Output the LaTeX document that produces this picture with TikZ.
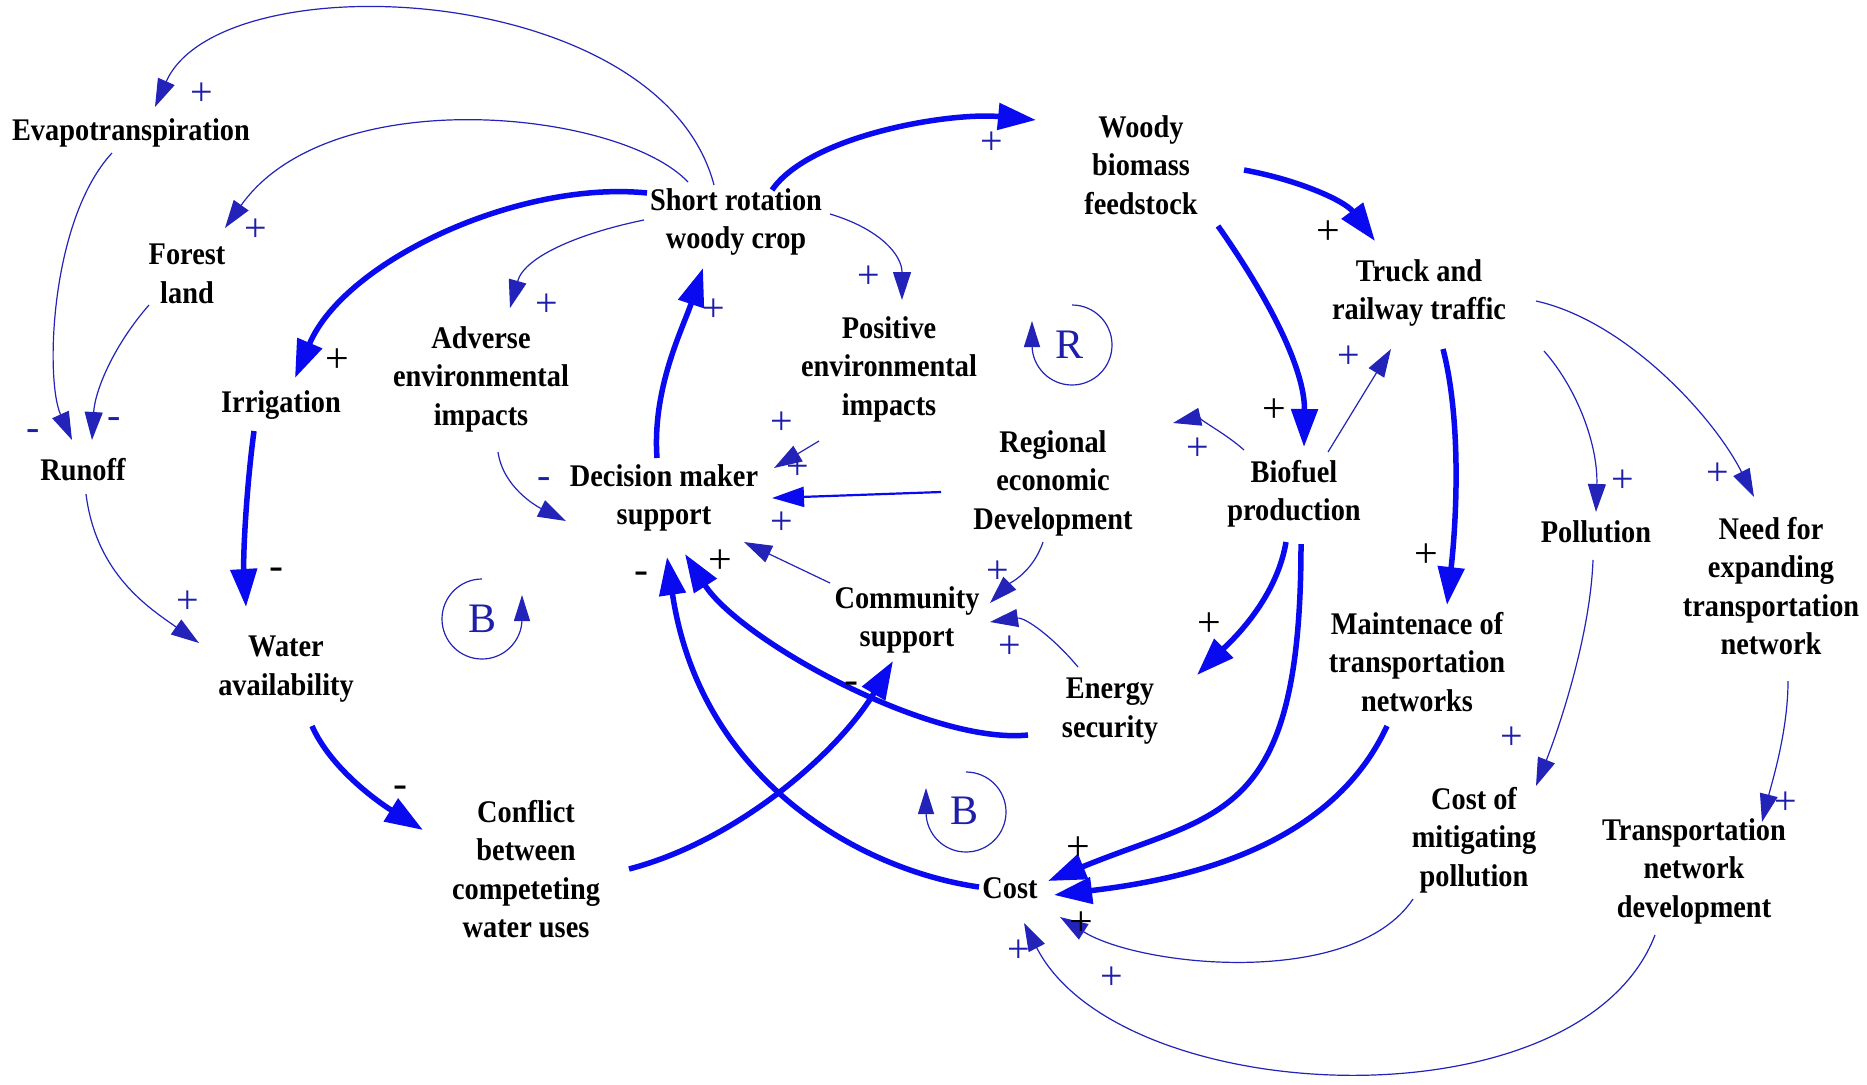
\documentclass[tikz,border=0pt]{standalone}
\usepackage{fontspec}
\setmainfont{Liberation Serif}
\newfontfamily\lblfont{Liberation Serif}[FakeStretch=0.9]
\usetikzlibrary{arrows.meta}
\definecolor{thickblue}{RGB}{10,10,240}
\definecolor{thinblue}{RGB}{35,35,185}
\definecolor{signblue}{RGB}{30,30,170}
\tikzset{
 lbl/.style={align=center,inner sep=0pt,font=\lblfont\bfseries\fontsize{31.5}{38.5}\selectfont},
 sgnb/.style={text=signblue,inner sep=0pt,font=\fontsize{40}{40}\selectfont},
 sgnk/.style={text=black,inner sep=0pt,font=\fontsize{42}{42}\selectfont},
 thicklink/.style={draw=thickblue,line width=5.5pt,-{Triangle[length=38pt,width=26pt]}},
 thinlink/.style={draw=thinblue,line width=1.2pt,-{Triangle[length=28pt,width=18pt]}},
 midlink/.style={draw=thickblue,line width=2.2pt,-{Triangle[length=32pt,width=20pt]}},
 loopmark/.style={draw=thinblue,line width=1.2pt,-{Triangle[length=26pt,width=16pt]}},
 looplbl/.style={text=signblue,inner sep=0pt,font=\fontsize{42}{42}\selectfont},
}
\begin{document}
\begin{tikzpicture}[x=1pt,y=-1pt]
\useasboundingbox[fill=white] (0,0) rectangle (1867,1084);
% nodes
\node[lbl] (evap) at (131,133) {Evapotranspiration};
\node[lbl] (forest) at (187,274) {Forest\\land};
\node[lbl] (srwc) at (736,222) {Short rotation\\woody crop};
\node[lbl] (woody) at (1141,165) {Woody\\biomass\\feedstock};
\node[lbl] (truck) at (1419,293) {Truck and\\railway traffic};
\node[lbl] (irrig) at (281,405) {Irrigation};
\node[lbl] (adverse) at (481,379) {Adverse\\environmental\\impacts};
\node[lbl] (positive) at (889,369) {Positive\\environmental\\impacts};
\node[lbl] (runoff) at (83,470) {Runoff};
\node[lbl] (decision) at (664,498) {Decision maker\\support};
\node[lbl] (regional) at (1053,483) {Regional\\economic\\Development};
\node[lbl] (biofuel) at (1294,494) {Biofuel\\production};
\node[lbl] (pollution) at (1596,532) {Pollution};
\node[lbl] (need) at (1771,586) {Need for\\expanding\\transportation\\network};
\node[lbl] (community) at (907,620) {Community\\support};
\node[lbl] (water) at (286,669) {Water\\availability};
\node[lbl] (energy) at (1110,711) {Energy\\security};
\node[lbl] (maint) at (1417,662) {Maintenace of\\transportation\\networks};
\node[lbl] (costmit) at (1474,840) {Cost of\\mitigating\\pollution};
\node[lbl] (transdev) at (1694,871) {Transportation\\network\\development};
\node[lbl] (conflict) at (526,869) {Conflict\\between\\competeting\\water uses};
\node[lbl] (cost) at (1010,888) {Cost};
% links
\draw[thinlink] ([shift={(-22,-37)}]srwc.center) .. controls +(-54,-205) and +(65,-147) .. ([shift={(24,-26)}]evap.center);
\draw[thinlink] ([shift={(-48,-40)}]srwc.center) .. controls +(-68,-72) and +(105,-148) .. ([shift={(38,-46)}]forest.center);
\draw[thicklink] ([shift={(-89,-29)}]srwc.center) .. controls +(-127,-13) and +(50,-118) .. ([shift={(14,-27)}]irrig.center);
\draw[thinlink] ([shift={(-92,-2)}]srwc.center) .. controls +(-59,12) and +(15,-53) .. ([shift={(29,-71)}]adverse.center);
\draw[thinlink] ([shift={(94,-8)}]srwc.center) .. controls +(50,15) and +(0,-45) .. ([shift={(13,-69)}]positive.center);
\draw[thicklink] ([shift={(36,-32)}]srwc.center) .. controls +(38,-55) and +(-86,-8) .. ([shift={(-105,-45)}]woody.center);
\draw[thicklink] ([shift={(103,5)}]woody.center) .. controls +(55,10) and +(-30,-40) .. ([shift={(-44,-52)}]truck.center);
\draw[thicklink] ([shift={(77,61)}]woody.center) .. controls +(52,74) and +(1,-77) .. ([shift={(10,-47)}]biofuel.center);
\draw[thinlink] ([shift={(34,-42)}]biofuel.center) -- ([shift={(-28,56)}]truck.center);
\draw[thinlink] ([shift={(-50,-44)}]biofuel.center) .. controls +(-20,-18) and +(22,-5) .. ([shift={(120,-60)}]regional.center);
\draw[thicklink] ([shift={(24,56)}]truck.center) .. controls +(18,70) and +(10,-90) .. ([shift={(30,-57)}]maint.center);
\draw[thinlink] ([shift={(125,58)}]truck.center) .. controls +(35,40) and +(2,-65) .. ([shift={(0,-20)}]pollution.center);
\draw[thinlink] ([shift={(117,8)}]truck.center) .. controls +(90,20) and +(-40,-80) .. ([shift={(-17,-89)}]need.center);
\draw[thinlink] ([shift={(-3,28)}]pollution.center) .. controls +(-3,80) and +(20,-50) .. ([shift={(62,-54)}]costmit.center);
\draw[thinlink] ([shift={(17,95)}]need.center) .. controls +(0,50) and +(10,-40) .. ([shift={(68,-49)}]transdev.center);
\draw[thinlink] ([shift={(-61,59)}]costmit.center) .. controls +(-60,90) and +(80,50) .. ([shift={(50,29)}]cost.center);
\draw[thinlink] ([shift={(-39,64)}]transdev.center) .. controls +(-75,195) and +(96,187) .. ([shift={(14,35)}]cost.center);
\draw[thicklink] ([shift={(7,50)}]biofuel.center) .. controls +(0,280) and +(170,-70) .. ([shift={(38,-7)}]cost.center);
\draw[thicklink] ([shift={(-30,64)}]maint.center) .. controls +(-57,124) and +(126,-15) .. ([shift={(44,7)}]cost.center);
\draw[thicklink] ([shift={(-8,48)}]biofuel.center) .. controls +(-10,60) and +(30,-30) .. ([shift={(87,-36)}]energy.center);
\draw[thicklink] ([shift={(-31,-1)}]cost.center) .. controls +(-119,-17) and +(33,223) .. ([shift={(3,59)}]decision.center);
\draw[thicklink] ([shift={(-82,24)}]energy.center) .. controls +(-98,10) and +(55,86) .. ([shift={(21,56)}]decision.center);
\draw[thicklink] ([shift={(103,0)}]conflict.center) .. controls +(111,-29) and +(-53,89) .. ([shift={(-14,41)}]community.center);
\draw[thicklink] ([shift={(-7,-40)}]decision.center) .. controls +(-5,-70) and +(-20,60) .. ([shift={(-33,46)}]srwc.center);
\draw[thinlink] ([shift={(17,73)}]adverse.center) .. controls +(5,35) and +(-30,-15) .. ([shift={(-98,23)}]decision.center);
\draw[thinlink] ([shift={(-70,72)}]positive.center) -- ([shift={(110,-30)}]decision.center);
\draw[midlink] ([shift={(-112,9)}]regional.center) -- ([shift={(108,0)}]decision.center);
\draw[thinlink] ([shift={(-77,-37)}]community.center) -- ([shift={(80,44)}]decision.center);
\draw[thinlink] ([shift={(-10,59)}]regional.center) .. controls +(-10,30) and +(20,-20) .. ([shift={(83,-17)}]community.center);
\draw[thinlink] ([shift={(-32,-44)}]energy.center) .. controls +(-25,-30) and +(35,-5) .. ([shift={(83,2)}]community.center);
\draw[thicklink] ([shift={(-27,26)}]irrig.center) .. controls +(-8,60) and +(-3,-50) .. ([shift={(-40,-62)}]water.center);
\draw[thicklink] ([shift={(26,57)}]water.center) .. controls +(20,45) and +(-40,-25) .. ([shift={(-103,-39)}]conflict.center);
\draw[thinlink] ([shift={(-19,20)}]evap.center) .. controls +(-62,67) and +(-27,-60) .. ([shift={(-11,-30)}]runoff.center);
\draw[thinlink] ([shift={(-38,31)}]forest.center) .. controls +(-35,40) and +(3,-50) .. ([shift={(9,-30)}]runoff.center);
\draw[thinlink] ([shift={(3,24)}]runoff.center) .. controls +(10,80) and +(-50,-35) .. ([shift={(-87,-26)}]water.center);
% loop markers
\node[looplbl] (loopR) at (1069,345) {R};
\draw[loopmark] (1072,305) arc[start angle=90,end angle=-180,radius=40pt] -- ++(0,-24);
\node[looplbl] (loopB1) at (482,619) {B};
\draw[loopmark] (482,579) arc[start angle=90,end angle=360,radius=40pt] -- ++(0,-24);
\node[looplbl] (loopB2) at (964,811) {B};
\draw[loopmark] (966,772) arc[start angle=90,end angle=-180,radius=40pt] -- ++(0,-24);
% polarity signs
\node[sgnb] (s1) at (202,94) {+};
\node[sgnb] (s2) at (256,230) {+};
\node[sgnk] (s3) at (337,361) {+};
\node[sgnb] (s4) at (547,305) {+};
\node[sgnb] (s5) at (714,310) {+};
\node[sgnb] (s6) at (869,277) {+};
\node[sgnb] (s7) at (992,143) {+};
\node[sgnk] (s8) at (1328,233) {+};
\node[sgnk] (s9) at (1274,411) {+};
\node[sgnb] (s10) at (1349,357) {+};
\node[sgnb] (s11) at (1198,449) {+};
\node[sgnk] (s12) at (1426,556) {+};
\node[sgnb] (s13) at (1623,481) {+};
\node[sgnb] (s14) at (1718,474) {+};
\node[sgnb] (s15) at (33,435) {-};
\node[sgnb] (s16) at (114,423) {-};
\node[sgnb] (s17) at (188,602) {+};
\node[sgnk] (s18) at (276,574) {-};
\node[sgnk] (s19) at (400,792) {-};
\node[sgnb] (s20) at (544,483) {-};
\node[sgnb] (s21) at (782,423) {+};
\node[sgnb] (s22) at (798,468) {+};
\node[sgnb] (s23) at (782,523) {+};
\node[sgnk] (s24) at (641,578) {-};
\node[sgnk] (s25) at (720,562) {+};
\node[sgnb] (s26) at (998,572) {+};
\node[sgnb] (s27) at (1010,647) {+};
\node[sgnk] (s28) at (851,688) {-};
\node[sgnk] (s29) at (1209,625) {+};
\node[sgnk] (s30) at (1078,849) {+};
\node[sgnk] (s31) at (1081,924) {+};
\node[sgnb] (s32) at (1019,951) {+};
\node[sgnb] (s33) at (1112,978) {+};
\node[sgnb] (s34) at (1512,738) {+};
\node[sgnb] (s35) at (1786,803) {+};
\end{tikzpicture}
\end{document}
